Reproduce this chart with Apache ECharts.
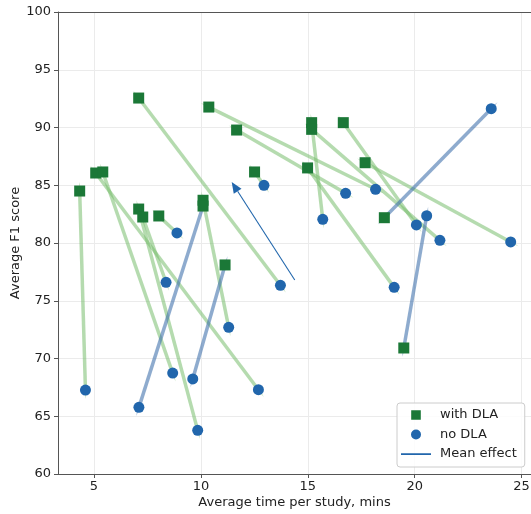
<!DOCTYPE html>
<html><head><meta charset="utf-8">
<script src="https://cdn.jsdelivr.net/npm/echarts@6/dist/echarts.min.js"></script>
<style>html,body{margin:0;padding:0;background:#fff}#c{width:531px;height:514px}</style>
</head><body><div id="c"></div>
<script>
// with DLA (squares)
const withDlaX = [4.33, 5.08, 5.41, 7.09, 7.09, 7.28, 8.03, 10.1, 10.1, 10.37, 11.13, 11.67, 12.51, 14.99, 15.18, 15.18, 16.66, 17.68, 18.58, 19.49];
const withDlaY = [84.5, 86.06, 86.15, 92.55, 82.94, 82.25, 82.34, 83.7, 83.2, 91.77, 78.1, 89.78, 86.15, 86.5, 90.42, 89.84, 90.42, 86.95, 82.19, 70.91];
// no DLA (circles), paired by index with the arrays above
const noDlaX = [4.6, 12.69, 8.68, 13.72, 9.85, 8.37, 8.88, 11.3, 7.1, 18.17, 9.62, 16.77, 12.95, 19.04, 15.7, 21.18, 20.08, 24.49, 23.58, 20.56];
const noDlaY = [67.27, 67.3, 68.74, 76.34, 63.78, 76.6, 80.87, 72.7, 65.77, 84.65, 68.23, 84.3, 84.99, 76.16, 82.05, 80.23, 81.56, 80.09, 91.63, 82.36];
// mean effect: from no DLA mean to with DLA mean
const meanNoDla = [14.39, 76.8];
const meanWithDla = [11.44, 85.28];
const xTicks = [5, 10, 15, 20, 25];
const legendNames = ['with DLA', 'no DLA', 'Mean effect'];

const FONT = 'DejaVu Sans';
const SQ = '#1b7837', CI = '#2166ac';
const GREEN_LINE = 'rgba(120,190,110,0.55)', BLUE_LINE = 'rgba(60,110,170,0.58)';
const BB = 'M0,0h.01v.01h-.01z M29.99,13.99h.01v.01h-.01z ';

const pairData = withDlaX.map((x, i) => [x, withDlaY[i], noDlaX[i], noDlaY[i]]);

const chart = echarts.init(document.getElementById('c'), null, {renderer: 'canvas'});
chart.setOption({
  animation: false,
  backgroundColor: '#fff',
  textStyle: {fontFamily: FONT},
  grid: {left: 58, top: 12, width: 473, height: 462, containLabel: false, outerBoundsMode: 'none'},
  xAxis: [{
    type: 'value', min: 3.316, max: 25.44, splitNumber: 5,
    axisLine: {onZero: false, lineStyle: {color: '#555', width: 1}},
    axisTick: {customValues: xTicks, length: 4, lineStyle: {color: '#555'}},
    axisLabel: {customValues: xTicks, margin: 6, fontSize: 13, color: '#222', fontFamily: FONT},
    splitLine: {lineStyle: {color: '#ebebeb', width: 1}},
    name: 'Average time per study, mins', nameLocation: 'middle', nameGap: 22, nameMoveOverlap: false,
    nameTextStyle: {fontSize: 13, color: '#222', fontFamily: FONT}
  }, {
    type: 'value', position: 'top', min: 3.316, max: 25.44,
    axisLine: {show: true, onZero: false, lineStyle: {color: '#555', width: 1}},
    axisTick: {show: false}, axisLabel: {show: false}, splitLine: {show: false}
  }],
  yAxis: {
    type: 'value', min: 60, max: 100, interval: 5,
    axisLine: {show: true, onZero: false, lineStyle: {color: '#555', width: 1}},
    axisTick: {show: true, length: 4, lineStyle: {color: '#555'}},
    axisLabel: {margin: 7, fontSize: 13, color: '#222', fontFamily: FONT},
    splitLine: {lineStyle: {color: '#ebebeb', width: 1}},
    name: 'Average F1 score', nameLocation: 'middle', nameGap: 36, nameMoveOverlap: false,
    nameTextStyle: {fontSize: 13, color: '#222', fontFamily: FONT}
  },
  legend: {
    orient: 'vertical', left: 397, top: 403,
    padding: [5, 8, 6, 4], itemWidth: 30, itemHeight: 14, itemGap: 5.5,
    borderColor: '#ccc', borderWidth: 1, borderRadius: 3,
    backgroundColor: 'rgba(255,255,255,0.85)',
    textStyle: {fontSize: 13, color: '#222', fontFamily: FONT, padding: [0, 0, 0, 4]},
    data: [
      {name: legendNames[0], icon: 'path://' + BB + 'M10.2,2.2h9.6v9.6h-9.6z', itemStyle: {color: SQ, borderWidth: 0, opacity: 1}},
      {name: legendNames[1], icon: 'path://' + BB + 'M20,7A5,5 0 1 1 10,7A5,5 0 1 1 20,7z', itemStyle: {color: CI, borderWidth: 0, opacity: 1}},
      {name: legendNames[2], icon: 'path://' + BB + 'M0,6.2h30v1.7h-30z', itemStyle: {color: CI, borderWidth: 0, opacity: 1}}
    ]
  },
  series: [
    {
      name: 'pairs', type: 'custom', z: 1, clip: true,
      data: pairData,
      encode: {x: [0, 2], y: [1, 3]},
      renderItem: (params, api) => {
        const p1 = api.coord([api.value(0), api.value(1)]);
        const p2 = api.coord([api.value(2), api.value(3)]);
        // green: DLA both faster and more accurate; blue: trade-off
        const winWin = api.value(1) > api.value(3) && api.value(0) < api.value(2);
        const col = winWin ? GREEN_LINE : BLUE_LINE;
        const dx = p2[0] - p1[0], dy = p2[1] - p1[1], L = Math.hypot(dx, dy);
        const ux = dx / L, uy = dy / L, hw = 1.5, tl = 9;
        const tail = (p, s) => ({type: 'polygon', shape: {points: [
          [p[0] - uy * hw, p[1] + ux * hw], [p[0] + uy * hw, p[1] - ux * hw], [p[0] + s * ux * tl, p[1] + s * uy * tl]]},
          style: {fill: col, opacity: 0.7}});
        return {type: 'group', children: [
          {type: 'line', shape: {x1: p1[0], y1: p1[1], x2: p2[0], y2: p2[1]},
            style: {stroke: col, lineWidth: 3.5, lineCap: 'butt'}},
          tail(p1, -1), tail(p2, 1)
        ]};
      }
    },
    {
      name: legendNames[0], type: 'scatter', z: 3, symbol: 'rect', symbolSize: 11,
      itemStyle: {color: SQ, opacity: 1},
      data: withDlaX.map((x, i) => [x, withDlaY[i]])
    },
    {
      name: legendNames[1], type: 'scatter', z: 3, symbol: 'circle', symbolSize: 11,
      itemStyle: {color: CI, opacity: 1},
      data: noDlaX.map((x, i) => [x, noDlaY[i]])
    },
    {
      name: legendNames[2], type: 'custom', z: 4,
      itemStyle: {color: CI},
      data: [[meanNoDla[0], meanNoDla[1], meanWithDla[0], meanWithDla[1]]],
      encode: {x: [0, 2], y: [1, 3]},
      renderItem: (params, api) => {
        const p1 = api.coord([api.value(0), api.value(1)]);
        const p2 = api.coord([api.value(2), api.value(3)]);
        const dx = p2[0] - p1[0], dy = p2[1] - p1[1], L = Math.hypot(dx, dy);
        const ux = dx / L, uy = dy / L, hl = 11, hw = 4.6;
        const b = [p2[0] - ux * hl, p2[1] - uy * hl];
        return {type: 'group', children: [
          {type: 'line', shape: {x1: p1[0], y1: p1[1], x2: b[0], y2: b[1]}, style: {stroke: CI, lineWidth: 1.1}},
          {type: 'polygon', shape: {points: [p2, [b[0] - uy * hw, b[1] + ux * hw], [b[0] + uy * hw, b[1] - ux * hw]]}, style: {fill: CI}}
        ]};
      }
    }
  ]
});
</script></body></html>
